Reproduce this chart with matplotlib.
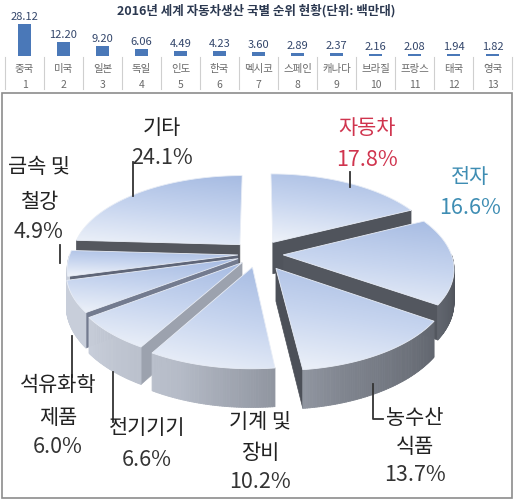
import numpy as np
import matplotlib
matplotlib.use('Agg')
import matplotlib.pyplot as plt
from matplotlib.patches import Polygon, Rectangle
from matplotlib.collections import PolyCollection
from matplotlib.colors import LinearSegmentedColormap

plt.rcParams['font.family'] = ['Noto Sans CJK KR', 'DejaVu Sans']

# ---------------- data ----------------
bar_title = '2016년 세계 자동차생산 국별 순위 현황(단위: 백만대)'
countries = ['중국', '미국', '일본', '독일', '인도', '한국', '멕시코',
             '스페인', '캐나다', '브라질', '프랑스', '태국', '영국']
ranks = [1, 2, 3, 4, 5, 6, 7, 8, 9, 10, 11, 12, 13]
production = [28.12, 12.20, 9.20, 6.06, 4.49, 4.23, 3.60,
              2.89, 2.37, 2.16, 2.08, 1.94, 1.82]

sectors = ['자동차', '전자', '농수산\n식품', '기계 및\n장비', '전기기기',
           '석유화학\n제품', '금속 및\n철강', '기타']
shares = [17.8, 16.6, 13.7, 10.2, 6.6, 6.0, 4.9, 24.1]

# ---------------- style ----------------
explode = [0.17, 0.15, 0.20, 0.16, 0.14, 0.13, 0.12, 0.16]
label_colors = ['#D0344E', '#3E8DB3', '#222222', '#222222', '#222222',
                '#222222', '#222222', '#222222']
pct_colors = ['#D0344E', '#3E8DB3', '#333333', '#333333', '#333333',
              '#333333', '#333333', '#333333']
# label layout (x centre, y of each line) in pixels
label_layout = [(367, [128, 160]), (470, [177, 208]), (415, [418, 447, 475]),
                (260, [422, 453, 482]), (147, [428, 460]), (58, [385, 418, 447]),
                (39, [167, 202, 232]), (162, [128, 158])]
leaders = [[(350, 173), (350, 188)], [], [(373, 385), (373, 420), (383, 420)], [],
           [(113, 373), (113, 423)], [(72, 337), (72, 378)],
           [(60, 246), (60, 264)], [(133, 163), (133, 197)]]
# radial wall tones (start wall, end wall)
radial_tones = [('#55595F', '#50545C'), ('#55595F', '#53575F'), ('#4C5058', '#4C5058'),
                ('#8A8F99', '#8A8F99'), ('#9CA2AE', '#9CA2AE'), ('#737B8F', '#737B8F'),
                ('#5F6678', '#5F6678'), ('#54575E', '#54575E')]

W, H = 514, 502
fig = plt.figure(figsize=(W / 100, H / 100), dpi=100)
ax = fig.add_axes([0, 0, 1, 1])
ax.set_xlim(0, W)
ax.set_ylim(H, 0)
ax.axis('off')

# ---------------- 3D exploded pie ----------------
CX, CY, R, RY, P, D = 258, 255, 168, 82, 0.15, 32


def proj(x, y, z=0.0):
    s = 1.0 / (1.0 + P * y)
    return CX + R * x * s, CY - RY * y * s - z * s


vals = np.array(shares, dtype=float)
edges = np.concatenate([[0], np.cumsum(vals)]) / vals.sum() * 360.0
mids = (edges[:-1] + edges[1:]) / 2

wall_cmap = LinearSegmentedColormap.from_list(
    'wall', [(0, '#4E525A'), (0.45, '#7F848E'), (0.75, '#B5BBC7'), (1, '#C8CEDA')])
top_cmap = LinearSegmentedColormap.from_list('top', ['#A6BBE2', '#C7D5EF', '#EEF2F9'])

order = sorted(range(len(vals)),
               key=lambda i: -np.cos(np.radians(mids[i])) * (1 + explode[i]))
zo = 2
for i in order:
    a, b, m = edges[i], edges[i + 1], mids[i]
    ox = explode[i] * np.sin(np.radians(m))
    oy = explode[i] * np.cos(np.radians(m))

    # radial walls
    for ang, normal, tone in ((a, a - 90, radial_tones[i][0]), (b, b + 90, radial_tones[i][1])):
        if -np.cos(np.radians(normal)) > 0:
            px, py = ox + np.sin(np.radians(ang)), oy + np.cos(np.radians(ang))
            pts = [proj(ox, oy, 0), proj(px, py, 0), proj(px, py, -D), proj(ox, oy, -D)]
            ax.add_patch(Polygon(pts, closed=True, facecolor=tone, edgecolor=tone,
                                 lw=0.5, zorder=zo))
            zo += 1

    # outer wall (front facing part)
    lo, hi = max(a, 90.0), min(b, 270.0)
    if hi > lo:
        th = np.linspace(lo, hi, max(int((hi - lo) * 1.5), 2))
        quads, cols = [], []
        for t0, t1 in zip(th[:-1], th[1:]):
            x0, y0 = ox + np.sin(np.radians(t0)), oy + np.cos(np.radians(t0))
            x1, y1 = ox + np.sin(np.radians(t1)), oy + np.cos(np.radians(t1))
            quads.append([proj(x0, y0, 0), proj(x1, y1, 0), proj(x1, y1, -D), proj(x0, y0, -D)])
            tm = np.clip(((t0 + t1) / 2 - 100) / 135.0, 0, 1)
            cols.append(wall_cmap(tm))
        pc = PolyCollection(quads, facecolors=cols, edgecolors=cols, linewidths=0.6, zorder=zo)
        ax.add_collection(pc)
        zo += 1

    # top face with gradient
    th = np.linspace(a, b, max(int(b - a) * 2, 3))
    pts = [proj(ox, oy, 0)] + [proj(ox + np.sin(np.radians(t)), oy + np.cos(np.radians(t)), 0)
                               for t in th]
    pts = np.array(pts)
    patch = Polygon(pts, closed=True, facecolor='none', edgecolor='#E8EDF6', lw=0.6, zorder=zo + 1)
    ax.add_patch(patch)
    xmin, xmax = pts[:, 0].min(), pts[:, 0].max()
    ymin, ymax = pts[:, 1].min(), pts[:, 1].max()
    yy, xx = np.mgrid[0:1:100j, 0:1:100j]
    grad = 0.8 * yy + 0.2 * (1 - xx)
    im = ax.imshow(grad, extent=(xmin, xmax, ymax, ymin), origin='upper', cmap=top_cmap,
                   vmin=0, vmax=1, aspect='auto', zorder=zo, interpolation='bilinear')
    im.set_clip_path(patch)
    zo += 2

# labels
for i, name in enumerate(sectors):
    xc, ys = label_layout[i]
    lines = name.split('\n') + [f'{shares[i]:.1f}%']
    for j, (ln, yv) in enumerate(zip(lines, ys)):
        is_pct = j == len(lines) - 1
        ax.text(xc, yv, ln, ha='center', va='center',
                fontsize=15.5 if is_pct else 15,
                color=pct_colors[i] if is_pct else label_colors[i], zorder=100)
    if leaders[i]:
        lx, ly = zip(*leaders[i])
        ax.plot(lx, ly, color='#333333', lw=1.3, zorder=99)

# frame of the pie panel
ax.add_patch(Rectangle((2, 94), 510, 405, facecolor='none', edgecolor='#8C8C8C',
                       lw=1.2, zorder=101))

# ---------------- top bar ranking ----------------
bx = fig.add_axes([5 / W, (H - 57) / H, 507 / W, 57 / H])
bx.set_xlim(-0.5, len(countries) - 0.5)
bx.set_ylim(0, 50)
bx.axis('off')
xs = np.arange(len(countries))
bx.bar(xs, production, width=0.31, color='#4A78B8')
for xi, v, c, r in zip(xs, production, countries, ranks):
    bx.text(xi, v + 7, f'{v:.2f}', ha='center', va='center', fontsize=8,
            color='#33466B', clip_on=False)
    bx.text(xi, -10.5, c, ha='center', va='center', fontsize=7.5,
            color='#6A6A6A', clip_on=False)
    bx.text(xi, -24.6, str(r), ha='center', va='center', fontsize=7.5,
            color='#6A6A6A', clip_on=False)
for k in range(len(countries) + 1):
    bx.plot([k - 0.5, k - 0.5], [-0.9, -29], color='#CFCFCF', lw=0.8, clip_on=False)

fig.text(256 / W, 1 - 11 / H, bar_title, ha='center', va='center', fontsize=9,
         fontweight='bold', color='#2B3850')

fig.savefig('out.png', dpi=100)
